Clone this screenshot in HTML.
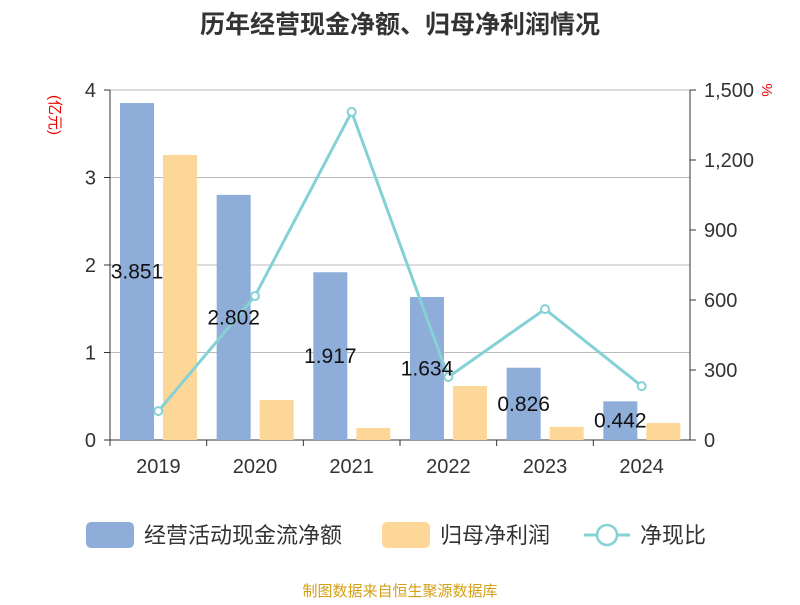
<!DOCTYPE html>
<html><head><meta charset="utf-8"><style>
body{margin:0;background:#fff;}
svg text{font-family:"Liberation Sans","Noto Sans CJK SC",sans-serif;}
</style></head><body>
<svg width="800" height="600" xmlns="http://www.w3.org/2000/svg" id="chart">
<text x="400" y="33" text-anchor="middle" font-size="25" font-weight="bold" fill="#333">历年经营现金净额、归母净利润情况</text>
<text transform="translate(50,115) rotate(90)" text-anchor="middle" font-size="15" fill="#e00">(亿元)</text>
<text transform="translate(762,90) rotate(90)" text-anchor="middle" font-size="15" fill="#e00">%</text>
<g id="grid"></g><g id="bars"></g><g id="line"></g><g id="labels"></g><g id="axes"></g>
<g>
<rect x="86" y="522" width="48" height="26" rx="5" fill="#8eadd9"/>
<text x="144" y="543" font-size="22" fill="#333">经营活动现金流净额</text>
<rect x="382" y="522" width="48" height="26" rx="5" fill="#fdd797"/>
<text x="440" y="543" font-size="22" fill="#333">归母净利润</text>
<line x1="584" y1="535" x2="630" y2="535" stroke="#85d1d6" stroke-width="3"/>
<circle cx="607" cy="535" r="10" fill="#fff" stroke="#85d1d6" stroke-width="2.5"/>
<text x="640" y="543" font-size="22" fill="#333">净现比</text>
</g>
<text x="400" y="596" text-anchor="middle" font-size="15" fill="#d4a017">制图数据来自恒生聚源数据库</text>
</svg>
<script>
const categories=["2019","2020","2021","2022","2023","2024"];
const cashFlow=[3.851,2.802,1.917,1.634,0.826,0.442];
const netProfit=[3.257,0.457,0.137,0.617,0.149,0.194];
const ratio=[124,617,1406,270,561,231];
const leftTicks=[0,1,2,3,4];
const rightTicks=["0","300","600","900","1,200","1,500"];
const NS="http://www.w3.org/2000/svg";
const X0=110,X1=690,Y0=440,Y1=90;
const band=(X1-X0)/categories.length;
const yL=v=>Y0-(v/4)*(Y0-Y1);
const yR=v=>Y0-(v/1500)*(Y0-Y1);
const xC=i=>X0+band*(i+0.5);
function mk(tag,attrs,parent,txt){const e=document.createElementNS(NS,tag);for(const k in attrs)e.setAttribute(k,attrs[k]);if(txt!==undefined)e.textContent=txt;document.getElementById(parent).appendChild(e);return e;}
leftTicks.forEach(t=>{
 const g=mk("line",{x1:X0,x2:X1,y1:yL(t),y2:yL(t),stroke:t===0?"#333":"#bbb","stroke-width":1},"grid");
 
 
 const tx=mk("text",{x:X0-14,y:yL(t)+7,"text-anchor":"end","font-size":20,fill:"#333"},"axes",String(t));
 
 
 const tk=mk("line",{x1:X0-6,x2:X0,y1:yL(t),y2:yL(t),stroke:"#333"},"axes");
 
 
});
rightTicks.forEach((t,i)=>{
 const v=i*300;
 const tx=mk("text",{x:X1+14,y:yR(v)+7,"font-size":20,fill:"#333"},"axes",t);
 
 
 const tk=mk("line",{x1:X1,x2:X1+6,y1:yR(v),y2:yR(v),stroke:"#333"},"axes");
 
 
});
let a=mk("line",{x1:X0,x2:X0,y1:Y1,y2:Y0,stroke:"#333"},"axes");


a=mk("line",{x1:X1,x2:X1,y1:Y1,y2:Y0,stroke:"#333"},"axes");


categories.forEach((c,i)=>{
 const tx=mk("text",{x:xC(i),y:Y0+33,"text-anchor":"middle","font-size":20,fill:"#333"},"axes",c);
 
 
 const tk=mk("line",{x1:X0+band*i,x2:X0+band*i,y1:Y0,y2:Y0+6,stroke:"#333"},"axes");
 
 
 const bx=X0+band*i+10, bw=34;
 const b=mk("rect",{x:bx,y:yL(cashFlow[i]),width:bw,height:Y0-yL(cashFlow[i]),fill:"#8eadd9"},"bars");
 
 
 const o=mk("rect",{x:bx+43,y:yL(netProfit[i]),width:bw,height:Y0-yL(netProfit[i]),fill:"#fdd797"},"bars");
 
 
 const l=mk("text",{x:bx+bw/2,y:(yL(cashFlow[i])+Y0)/2+7,"text-anchor":"middle","font-size":21,fill:"#111"},"labels",cashFlow[i].toFixed(3));
 
 
});
const pts=ratio.map((v,i)=>xC(i)+","+yR(v)).join(" ");
const pl=mk("polyline",{points:pts,fill:"none",stroke:"#85d1d6","stroke-width":3},"line");


ratio.forEach((v,i)=>{
 const p=mk("circle",{cx:xC(i),cy:yR(v),r:4,fill:"#fff",stroke:"#85d1d6","stroke-width":2},"line");
 
 
});
</script>
</body></html>
